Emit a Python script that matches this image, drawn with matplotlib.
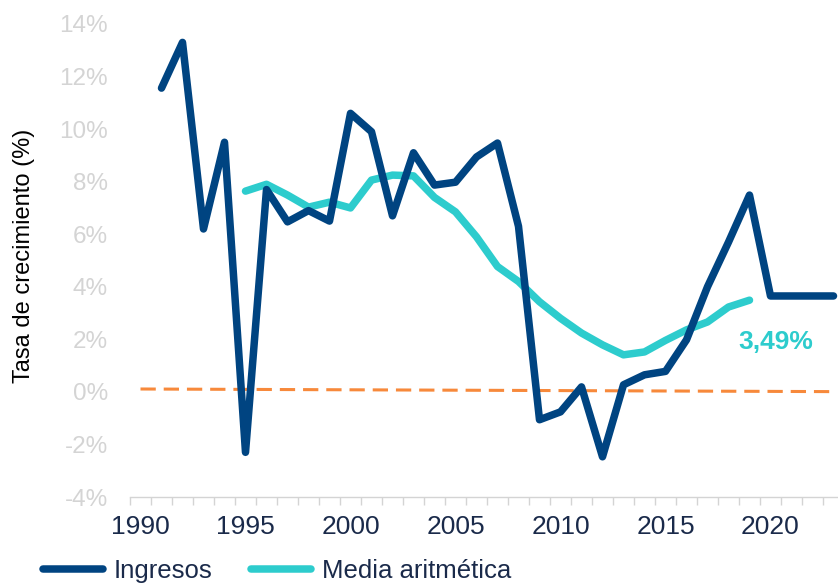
import numpy as np
import matplotlib
matplotlib.use("Agg")
import matplotlib.pyplot as plt
from matplotlib.ticker import FixedLocator, FuncFormatter

# data
years = list(range(1991, 2024))
ingresos = [11.56, 13.3, 6.2, 9.5, -2.3, 7.7, 6.47, 6.9, 6.5, 10.6,
            9.9, 6.7, 9.1, 7.87, 7.98, 8.94, 9.47, 6.3, -1.06, -0.76,
            0.19, -2.47, 0.27, 0.65, 0.78, 1.98, 4.0, 5.7, 7.49, 3.65,
            3.65, 3.65, 3.65]
media_years = list(range(1995, 2020))
media = [7.64, 7.9, 7.49, 7.03, 7.22, 7.0, 8.06, 8.25, 8.22, 7.4,
         6.85, 5.9, 4.77, 4.2, 3.43, 2.8, 2.24, 1.79, 1.41, 1.52,
         1.96, 2.36, 2.66, 3.23, 3.49]
ref_years = [1990, 2023]
ref_vals = [0.11, 0.01]
xtick_years = [1990, 1995, 2000, 2005, 2010, 2015, 2020]
last_label = "3,49%"

navy = "#004481"
aqua = "#2dcccd"
orange = "#f7893b"
light = "#d4d4d4"
textc = "#1a2a4a"

fam = ["Liberation Sans", "DejaVu Sans"]
plt.rcParams["font.family"] = fam

fig = plt.figure(figsize=(8.38, 5.85), dpi=100)
ax = fig.add_axes([130 / 838, 1 - 497 / 585, 714 / 838, 473 / 585])

ax.plot(ref_years, ref_vals, color=orange, lw=2.2, dashes=(5, 2.6), zorder=1)
l1, = ax.plot(years, ingresos, color=navy, lw=5.4, solid_joinstyle="round",
              solid_capstyle="round", zorder=3, label="Ingresos")
l2, = ax.plot(media_years, media, color=aqua, lw=5.4, solid_joinstyle="round",
              solid_capstyle="round", zorder=2, label="Media aritmética")

ax.text(media_years[-1] + 1.25, media[-1] - 1.6, last_label, color=aqua,
        fontsize=19, fontweight="bold", ha="center", va="center")

ax.set_xlim(1989.5, 2023.5)
ax.set_ylim(-4, 14)

ax.set_yticks(np.arange(-4, 15, 2))
ax.yaxis.set_major_formatter(FuncFormatter(lambda v, p: f"{v:.0f}%"))
ax.tick_params(axis="y", length=0, pad=16, labelcolor=light, labelsize=17.5)

ax.xaxis.set_major_locator(FixedLocator(xtick_years))
ax.xaxis.set_minor_locator(FixedLocator(np.arange(1989.5, 2024, 1)))
ax.tick_params(axis="x", which="major", length=0, pad=13, labelsize=19,
               labelcolor=textc)
ax.tick_params(axis="x", which="minor", length=6, color=light, width=1)

for s in ["top", "right", "left"]:
    ax.spines[s].set_visible(False)
ax.spines["bottom"].set_color(light)
ax.spines["bottom"].set_linewidth(1)

ax.set_ylabel("Tasa de crecimiento (%)", fontsize=17, color="black")
ax.yaxis.set_label_coords(-0.133, 0.51)

leg = fig.legend(handles=[l1, l2], loc="center left", bbox_to_anchor=(43 / 838, 0.024),
                 ncol=2, frameon=False, handlelength=2.35, columnspacing=1.5,
                 handletextpad=0.4, borderpad=0, borderaxespad=0,
                 prop={"size": 18.5})
for txt in leg.get_texts():
    txt.set_color(textc)

fig.savefig("out.png", dpi=100)
